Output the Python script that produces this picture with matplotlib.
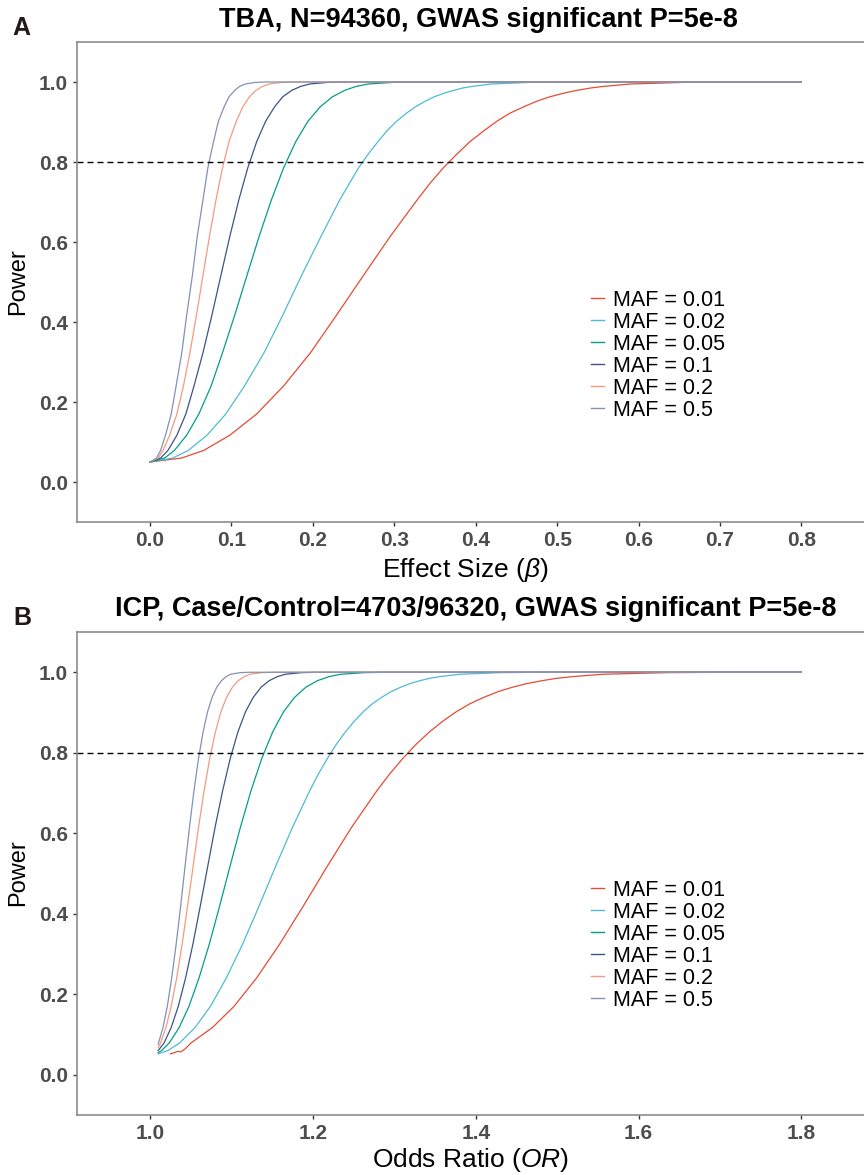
import numpy as np
import matplotlib
matplotlib.use('Agg')
import matplotlib.pyplot as plt
from matplotlib.lines import Line2D

plt.rcParams['font.family'] = ['Liberation Sans', 'DejaVu Sans']
plt.rcParams['mathtext.fontset'] = 'custom'
plt.rcParams['mathtext.rm'] = 'Liberation Sans'
plt.rcParams['mathtext.it'] = 'Liberation Sans:italic'

# 凡例と色 ----------------------------------
maf_labels = ['MAF = 0.01', 'MAF = 0.02', 'MAF = 0.05',
              'MAF = 0.1', 'MAF = 0.2', 'MAF = 0.5']
maf_cols = ['#E64B35', '#4DBBD5', '#00A087', '#3C5488', '#F39B7F', '#8491B4']

# A: TBA 効果量 beta と検出力 ----------------------
beta_maf001 = [0, 0.039, 0.066, 0.098, 0.131, 0.164, 0.197, 0.229, 0.262, 0.295,
               0.328, 0.344, 0.360, 0.377, 0.393, 0.410, 0.426, 0.442, 0.459,
               0.475, 0.491, 0.508, 0.524, 0.541, 0.557, 0.590, 0.623, 0.655,
               0.721, 0.8]
pa_maf001 = [0.050, 0.060, 0.079, 0.117, 0.170, 0.240, 0.323, 0.417, 0.516,
             0.614, 0.705, 0.747, 0.785, 0.820, 0.851, 0.878, 0.902, 0.922,
             0.938, 0.952, 0.963, 0.972, 0.979, 0.985, 0.989, 0.995, 0.997,
             0.999, 1.000, 1.000]
beta_maf002 = [0, 0.028, 0.047, 0.070, 0.093, 0.116, 0.140, 0.163, 0.186, 0.210,
               0.233, 0.245, 0.256, 0.268, 0.280, 0.291, 0.303, 0.315, 0.326,
               0.338, 0.349, 0.361, 0.373, 0.384, 0.396, 0.419, 0.443, 0.466,
               0.513, 0.8]
pa_maf002 = pa_maf001
beta_maf005 = [0, 0.018, 0.030, 0.045, 0.060, 0.075, 0.089, 0.104, 0.119, 0.134,
               0.149, 0.164, 0.179, 0.194, 0.209, 0.224, 0.239, 0.253, 0.268,
               0.283, 0.298, 0.328, 0.8]
beta_maf01 = [0, 0.013, 0.022, 0.033, 0.044, 0.054, 0.065, 0.076, 0.087, 0.098,
              0.109, 0.120, 0.131, 0.142, 0.153, 0.163, 0.174, 0.185, 0.196,
              0.207, 0.218, 0.240, 0.8]
beta_maf02 = [0, 0.010, 0.016, 0.024, 0.033, 0.041, 0.049, 0.057, 0.065, 0.073,
              0.081, 0.089, 0.097, 0.106, 0.114, 0.122, 0.130, 0.138, 0.146,
              0.154, 0.162, 0.179, 0.8]
beta_maf05 = [0, 0.008, 0.013, 0.019, 0.026, 0.032, 0.039, 0.045, 0.052, 0.058,
              0.065, 0.071, 0.078, 0.084, 0.091, 0.097, 0.104, 0.110, 0.117,
              0.123, 0.129, 0.142, 0.8]
pa_rest = [0.050, 0.060, 0.079, 0.117, 0.170, 0.240, 0.323, 0.417, 0.516,
           0.614, 0.705, 0.785, 0.851, 0.902, 0.938, 0.963, 0.979, 0.989,
           0.995, 0.997, 0.999, 1.000, 1.000]

# B: ICP オッズ比と検出力 ----------------------
or_maf001 = [1.025, 1.030, 1.034, 1.038, 1.043, 1.0503, 1.0765, 1.1032, 1.1307,
             1.1587, 1.1876, 1.2171, 1.2473, 1.2784, 1.2942, 1.3101, 1.3263,
             1.3427, 1.3593, 1.3762, 1.3931, 1.4103, 1.4278, 1.4454, 1.4633,
             1.4813, 1.4996, 1.5182, 1.5558, 1.5946, 1.6343, 1.7166, 1.8]
pw_maf001 = [0.052, 0.055, 0.058, 0.057, 0.064, 0.079, 0.117, 0.170, 0.240,
             0.323, 0.417, 0.516, 0.614, 0.705, 0.747, 0.785, 0.820, 0.851,
             0.878, 0.902, 0.922, 0.938, 0.952, 0.963, 0.972, 0.979, 0.985,
             0.989, 0.995, 0.997, 0.999, 1.000, 1.000]
or_maf002 = [1.010, 1.0217, 1.0364, 1.0552, 1.0742, 1.0936, 1.1134, 1.1335,
             1.1539, 1.1748, 1.1960, 1.2067, 1.2176, 1.2285, 1.2396, 1.2507,
             1.2619, 1.2733, 1.2847, 1.2963, 1.3079, 1.3197, 1.3315, 1.3435,
             1.3556, 1.3800, 1.4049, 1.4303, 1.4824, 1.8]
pw_maf002 = [0.052, 0.060, 0.079, 0.117, 0.170, 0.240, 0.323, 0.417, 0.516,
             0.614, 0.705, 0.747, 0.785, 0.820, 0.851, 0.878, 0.902, 0.922,
             0.938, 0.952, 0.963, 0.972, 0.979, 0.985, 0.989, 0.995, 0.997,
             0.999, 1.000, 1.000]
or_maf005 = [1.010, 1.0141, 1.0236, 1.0357, 1.0478, 1.0601, 1.0726, 1.0852,
             1.0980, 1.1109, 1.1239, 1.1371, 1.1505, 1.1640, 1.1777, 1.1915,
             1.2055, 1.2197, 1.2340, 1.2486, 1.2632, 1.2930, 1.8]
pw_maf005 = [0.055, 0.060, 0.079, 0.117, 0.170, 0.240, 0.323, 0.417, 0.516,
             0.614, 0.705, 0.785, 0.851, 0.902, 0.938, 0.963, 0.979, 0.989,
             0.995, 0.997, 0.999, 1.000, 1.000]
or_maf01 = [1.010, 1.0172, 1.0259, 1.0347, 1.0436, 1.0525, 1.0615, 1.0707,
            1.0798, 1.0891, 1.0984, 1.1078, 1.1173, 1.1269, 1.1365, 1.1463,
            1.1562, 1.1660, 1.1760, 1.1860, 1.2065, 1.8]
pw_maf01 = [0.060, 0.079, 0.117, 0.170, 0.240, 0.323, 0.417, 0.516, 0.614,
            0.705, 0.785, 0.851, 0.902, 0.938, 0.963, 0.979, 0.989, 0.995,
            0.997, 0.999, 1.000, 1.000]
or_maf02 = [1.010, 1.0129, 1.0195, 1.0260, 1.0327, 1.0393, 1.0460, 1.0528,
            1.0595, 1.0664, 1.0732, 1.0802, 1.0871, 1.0941, 1.1012, 1.1083,
            1.1155, 1.1227, 1.1299, 1.1372, 1.1519, 1.8]
pw_maf02 = [0.067, 0.079, 0.117, 0.170, 0.240, 0.323, 0.417, 0.516, 0.614,
            0.705, 0.785, 0.851, 0.902, 0.938, 0.963, 0.979, 0.989, 0.995,
            0.997, 0.999, 1.000, 1.000]
or_maf05 = [1.010, 1.0159, 1.0212, 1.0266, 1.0320, 1.0375, 1.0429, 1.0484,
            1.0539, 1.0595, 1.0651, 1.0707, 1.0763, 1.0820, 1.0877, 1.0934,
            1.0991, 1.1049, 1.1107, 1.1225, 1.8]
pw_maf05 = [0.076, 0.117, 0.170, 0.240, 0.323, 0.417, 0.516, 0.614, 0.705,
            0.785, 0.851, 0.902, 0.938, 0.963, 0.979, 0.989, 0.995, 0.997,
            0.999, 1.000, 1.000]

beta_all = [beta_maf001, beta_maf002, beta_maf005, beta_maf01, beta_maf02, beta_maf05]
pa_all = [pa_maf001, pa_maf002, pa_rest, pa_rest, pa_rest, pa_rest]
or_all = [or_maf001, or_maf002, or_maf005, or_maf01, or_maf02, or_maf05]
pw_all = [pw_maf001, pw_maf002, pw_maf005, pw_maf01, pw_maf02, pw_maf05]

grey_txt = '#4D4D4D'
W, H = 864, 1175


def setup_axes(ax, xlim, xticks, xticklabels):
    ax.set_xlim(xlim)
    ax.set_ylim(-0.1, 1.1)
    ax.set_xticks(xticks)
    ax.set_xticklabels(xticklabels)
    ax.set_yticks(np.arange(0, 1.01, 0.2))
    ax.set_yticklabels(['0.0', '0.2', '0.4', '0.6', '0.8', '1.0'])
    ax.tick_params(length=3, width=1, color='#333333', pad=3.5,
                   labelsize=15, labelcolor=grey_txt)
    for lab in ax.get_xticklabels() + ax.get_yticklabels():
        lab.set_fontweight('bold')
    for s in ['left', 'bottom', 'top']:
        ax.spines[s].set_color('#8C8C8C')
        ax.spines[s].set_linewidth(1.2)
    ax.spines['right'].set_visible(False)
    ax.axhline(0.8, color='black', lw=1.0, dashes=(4.3, 2.9))


def add_legend(ax, y_top):
    handles = [Line2D([0], [0], color=c, lw=1.0) for c in maf_cols]
    ax.legend(handles, maf_labels, loc='upper left',
              bbox_to_anchor=(591 / W, 1 - y_top / H),
              bbox_transform=fig.transFigure, frameon=False,
              fontsize=15.5, handlelength=0.62, handletextpad=0.42,
              labelspacing=0.045, borderpad=0, borderaxespad=0)


fig = plt.figure(figsize=(W / 100, H / 100), dpi=100)

# ---- A
axA = fig.add_axes([77 / W, 1 - 522 / H, 840 / W, 480 / H])
for x, y, c in zip(beta_all, pa_all, maf_cols):
    axA.plot(x, y, color=c, lw=0.9, solid_joinstyle='round')
setup_axes(axA, (-0.0897, 0.942), np.arange(0, 0.81, 0.1),
           ['0.0', '0.1', '0.2', '0.3', '0.4', '0.5', '0.6', '0.7', '0.8'])
add_legend(axA, 290)

# ---- B
axB = fig.add_axes([77 / W, 1 - 1115 / H, 840 / W, 483 / H])
for x, y, c in zip(or_all, pw_all, maf_cols):
    axB.plot(x, y, color=c, lw=0.9, solid_joinstyle='round')
setup_axes(axB, (0.9103, 1.942), np.arange(1.0, 1.81, 0.2),
           ['1.0', '1.2', '1.4', '1.6', '1.8'])
add_legend(axB, 880)

# ---- テキスト
fig.text(478 / W, 1 - 20 / H, 'TBA, N=94360, GWAS significant P=5e-8',
         ha='center', va='center', fontsize=19.5, fontweight='bold')
fig.text(476 / W, 1 - 609 / H,
         'ICP, Case/Control=4703/96320, GWAS significant P=5e-8',
         ha='center', va='center', fontsize=19.5, fontweight='bold')
fig.text(21 / W, 1 - 28 / H, 'A', ha='center', va='center',
         fontsize=18, fontweight='bold', color='#231815')
fig.text(22 / W, 1 - 618 / H, 'B', ha='center', va='center',
         fontsize=18, fontweight='bold', color='#231815')
fig.text(18 / W, 1 - 282 / H, 'Power', rotation=90, ha='center', va='center',
         fontsize=17)
fig.text(18 / W, 1 - 873 / H, 'Power', rotation=90, ha='center', va='center',
         fontsize=17)
fig.text(465 / W, 1 - 570 / H, r'Effect Size ($\beta$)', ha='center',
         va='center', fontsize=19)
fig.text(470 / W, 1 - 1160 / H, r'Odds Ratio ($OR$)', ha='center',
         va='center', fontsize=19)

fig.savefig('out.png', dpi=100)
